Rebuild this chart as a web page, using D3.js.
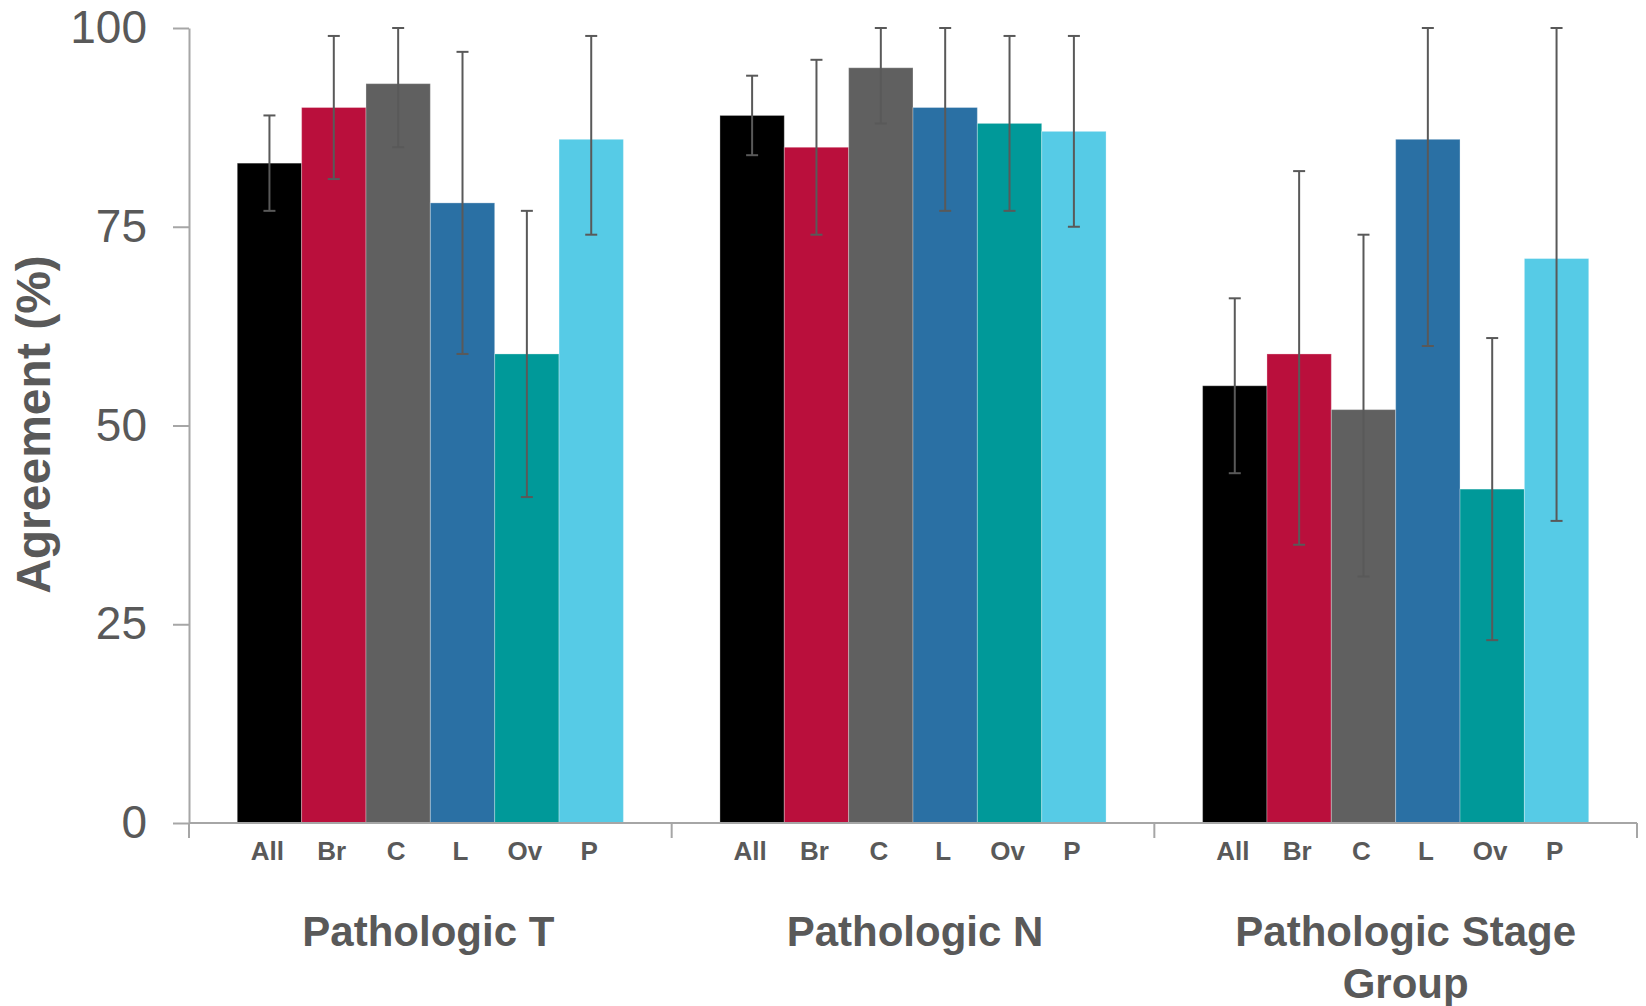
<!DOCTYPE html>
<html>
<head>
<meta charset="utf-8">
<script src="https://cdn.jsdelivr.net/npm/d3@7"></script>
<style>
  html, body { margin: 0; padding: 0; background: #fff; }
  svg { display: block; font-family: "Liberation Sans", Arial, sans-serif; }
</style>
</head>
<body>
<svg id="chart" width="1646" height="1006"></svg>
<script>
// Agreement (%) by staging element and tumour site, with 95% CI whiskers
const groups = ["Pathologic T", "Pathologic N", "Pathologic Stage Group"];
const groupLabelLines = [["Pathologic T"], ["Pathologic N"], ["Pathologic Stage", "Group"]];
const sites = ["All", "Br", "C", "L", "Ov", "P"];
const siteColors = ["#000000", "#BA0F3C", "#606060", "#2A70A4", "#009999", "#56CBE6"];

const valuesT = [83, 90, 93, 78, 59, 86];
const lowT = [77, 81, 85, 59, 41, 74];
const highT = [89, 99, 100, 97, 77, 99];

const valuesN = [89, 85, 95, 90, 88, 87];
const lowN = [84, 74, 88, 77, 77, 75];
const highN = [94, 96, 100, 100, 99, 99];

const valuesStage = [55, 59, 52, 86, 42, 71];
const lowStage = [44, 35, 31, 60, 23, 38];
const highStage = [66, 82, 74, 100, 61, 100];

const yTicks = [0, 25, 50, 75, 100];

const groupValues = [valuesT, valuesN, valuesStage];
const groupLow = [lowT, lowN, lowStage];
const groupHigh = [highT, highN, highStage];

const rows = [];
groups.forEach((g, gi) => {
  sites.forEach((s, si) => {
    rows.push({ group: g, site: s, value: groupValues[gi][si], lo: groupLow[gi][si], hi: groupHigh[gi][si], color: siteColors[si] });
  });
});

const svg = d3.select("#chart");
const axisColor = "#A6A6A6";
const textColor = "#595959";

const x0 = d3.scaleBand().domain(groups).range([189, 1637]).paddingInner(0).paddingOuter(0);
const x1 = d3.scaleBand().domain(sites).range([0, x0.bandwidth()]).paddingInner(0).paddingOuter(0.75);
const y = d3.scaleLinear().domain([0, 100]).range([823, 28]);

// bars
svg.append("g").selectAll("rect").data(rows).join("rect")
  .attr("x", d => x0(d.group) + x1(d.site))
  .attr("y", d => y(d.value))
  .attr("width", x1.bandwidth())
  .attr("height", d => y(0) - y(d.value))
  .attr("fill", d => d.color)
  .attr("stroke", "rgba(255,255,255,0.3)")
  .attr("stroke-width", 1);

// error whiskers
const capW = 12;
const eb = svg.append("g").attr("stroke", "#595959").attr("stroke-width", 2).attr("fill", "none");
rows.forEach(d => {
  const cx = x0(d.group) + x1(d.site) + x1.bandwidth() / 2;
  eb.append("line").attr("x1", cx).attr("x2", cx).attr("y1", y(d.lo)).attr("y2", y(d.hi));
  eb.append("line").attr("x1", cx - capW / 2).attr("x2", cx + capW / 2).attr("y1", y(d.hi)).attr("y2", y(d.hi));
  eb.append("line").attr("x1", cx - capW / 2).attr("x2", cx + capW / 2).attr("y1", y(d.lo)).attr("y2", y(d.lo));
});

// y axis
const yAxis = svg.append("g").attr("transform", `translate(${x0.range()[0]},0)`)
  .call(d3.axisLeft(y).tickValues(yTicks).tickSize(16).tickSizeOuter(0).tickPadding(26));
yAxis.select(".domain").attr("stroke", axisColor).attr("stroke-width", 2);
yAxis.selectAll(".tick line").attr("stroke", axisColor).attr("stroke-width", 2);
yAxis.selectAll(".tick text")
  .attr("fill", textColor)
  .style("font-size", "46px")
  .style("font-family", "'Liberation Sans', Arial, sans-serif");

// x axis baseline with group separators
const boundaries = groups.map(g => x0(g)).concat([x0.range()[1]]);
svg.append("line")
  .attr("x1", x0.range()[0]).attr("x2", x0.range()[1])
  .attr("y1", y(0)).attr("y2", y(0))
  .attr("stroke", axisColor).attr("stroke-width", 2);
svg.append("g").selectAll("line").data(boundaries).join("line")
  .attr("x1", d => d).attr("x2", d => d)
  .attr("y1", y(0)).attr("y2", y(0) + 15)
  .attr("stroke", axisColor).attr("stroke-width", 2);

// site labels
svg.append("g").selectAll("text").data(rows).join("text")
  .attr("x", d => x0(d.group) + x1(d.site) + x1.bandwidth() / 2 - 2)
  .attr("y", 851)
  .attr("text-anchor", "middle")
  .attr("dominant-baseline", "central")
  .attr("fill", textColor)
  .style("font-size", "26px")
  .style("font-weight", "bold")
  .text(d => d.site);

// group labels (the wrapped label sits a little right of its band centre)
const groupLabelShift = [-2, 2, 10];
const gl = svg.append("g").selectAll("text").data(groups).join("text")
  .attr("y", 931)
  .attr("text-anchor", "middle")
  .attr("dominant-baseline", "central")
  .attr("fill", textColor)
  .style("font-size", "42px")
  .style("font-weight", "bold");
gl.each(function (g, i) {
  const t = d3.select(this);
  groupLabelLines[i].forEach((line, li) => {
    t.append("tspan")
      .attr("x", x0(g) + x0.bandwidth() / 2 + groupLabelShift[i])
      .attr("dy", li === 0 ? 0 : 52)
      .text(line);
  });
});

// y axis title
svg.append("text")
  .attr("transform", `translate(33,${(y(0) + y(100)) / 2 - 1}) rotate(-90)`)
  .attr("text-anchor", "middle")
  .attr("dominant-baseline", "central")
  .attr("fill", textColor)
  .style("font-size", "48px")
  .style("font-weight", "bold")
  .text("Agreement (%)");
</script>
</body>
</html>
